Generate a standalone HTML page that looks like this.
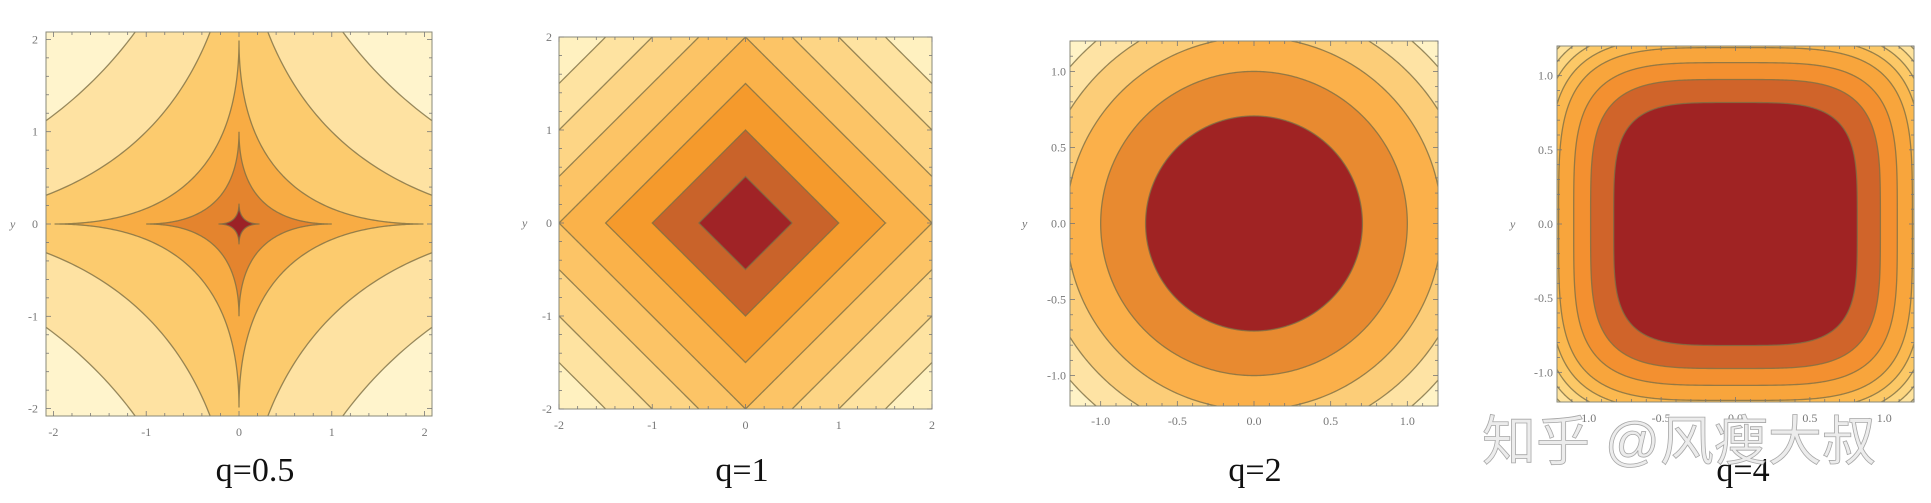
<!DOCTYPE html>
<html><head><meta charset="utf-8">
<style>
html,body{margin:0;padding:0;background:#fff;width:1931px;height:503px;overflow:hidden;position:relative}
svg{display:block;position:absolute;left:0;top:0}
.tl{font-family:"Liberation Serif",serif;font-size:12px;fill:#777}
.ti{font-family:"Liberation Serif",serif;font-size:34px;fill:#111}
.wm{font-family:"Liberation Sans","Noto Sans CJK SC",sans-serif;font-size:54px;fill:#ececec;stroke:#a8a8a8;stroke-width:0.8}
</style></head><body>
<svg id="root" width="1931" height="503" viewBox="0 0 1931 503" xmlns="http://www.w3.org/2000/svg"></svg>
<script>
// ---- data ----
const qValues = [0.5, 1, 2, 4];
const titles = ["q=0.5", "q=1", "q=2", "q=4"];
const ranges = [2.08, 2, 1.2, 1.2];
// contour levels of |x|^q + |y|^q for each panel
const levels05 = [0.47, 1, 1.41, 2, 2.5];
const levels1 = [0.5, 1, 1.5, 2, 2.5, 3, 3.5];
const levels2 = [0.5, 1, 1.5, 2, 2.5];
const levels4 = [0.45, 0.9, 1.4, 2, 2.5, 3, 3.5, 4];
// band colours inner -> outer
const colors05 = ["#9c2226", "#e4842e", "#f8ac44", "#fccb6e", "#fee2a2", "#fff4cc"];
const colors1 = ["#a02326", "#c9632a", "#f59a2c", "#fab24a", "#fcc466", "#fdd585", "#fee3a1", "#fff1c0"];
const colors2 = ["#a02323", "#e88a30", "#fbb04a", "#fccd78", "#fee3a4", "#fff3c6"];
const colors4 = ["#a02323", "#d0642a", "#f39030", "#f8a53c", "#fbb84f", "#fcc866", "#fdd680", "#fee29c", "#feebb2", "#fff4c8"];
const xTicks0 = ["-2", "-1", "0", "1", "2"];
const xTicks2 = ["-1.0", "-0.5", "0.0", "0.5", "1.0"];
const tickVals0 = [-2, -1, 0, 1, 2];
const tickVals2 = [-1, -0.5, 0, 0.5, 1];
const allLevels = [levels05, levels1, levels2, levels4];
const allColors = [colors05, colors1, colors2, colors4];
const allTickLabels = [xTicks0, xTicks0, xTicks2, xTicks2];
const allTickVals = [tickVals0, tickVals0, tickVals2, tickVals2];

const boxes = [
  {l:46, r:432, t:32, b:416, yl:10, lab:38, xlab:432},
  {l:559, r:932, t:37, b:409, yl:522, lab:552, xlab:425},
  {l:1070, r:1438, t:41, b:406, yl:1022, lab:1066, xlab:421},
  {l:1557, r:1914, t:46, b:402, yl:1510, lab:1553, xlab:418}
];
const titleX = [255, 742, 1255, 1743];

const NS = "http://www.w3.org/2000/svg";
const root = document.getElementById('root');
function mk(tag, attrs, parent){
  const e = document.createElementNS(NS, tag);
  for (const k in attrs) e.setAttribute(k, attrs[k]);
  (parent||root).appendChild(e);
  return e;
}
function superPath(q, f, sx, sy){
  const r = Math.pow(f, 1/q);
  let d = "";
  const N = 720;
  for (let i=0;i<=N;i++){
    const t = i/N*2*Math.PI;
    const c = Math.cos(t), s = Math.sin(t);
    const x = Math.sign(c)*r*Math.pow(Math.abs(c), 2/q);
    const y = Math.sign(s)*r*Math.pow(Math.abs(s), 2/q);
    d += (i?"L":"M") + sx(x).toFixed(2) + "," + sy(y).toFixed(2);
  }
  return d + "Z";
}

for (let p=0;p<4;p++){
  const B = boxes[p], R = ranges[p], q = qValues[p];
  const sx = v => B.l + (v + R)/(2*R)*(B.r-B.l);
  const sy = v => B.b - (v + R)/(2*R)*(B.b-B.t);
  const g = mk('g', {});
  
  
  const cp = mk('clipPath', {id:'clip'+p}, g);
  mk('rect', {x:B.l, y:B.t, width:B.r-B.l, height:B.b-B.t}, cp);
  const plot = mk('g', {'clip-path':'url(#clip'+p+')'}, g);
  
  
  const lv = allLevels[p], cols = allColors[p];
  const bg = mk('rect', {x:B.l, y:B.t, width:B.r-B.l, height:B.b-B.t, fill:cols[cols.length-1]}, plot);
  
  
  for (let i=lv.length-1;i>=0;i--){
    const path = mk('path', {d:superPath(q, lv[i], sx, sy), fill:cols[i], stroke:'#7d6f45', 'stroke-width':1.3, 'stroke-opacity':0.8}, plot);
    
    
  }
  const frame = mk('rect', {x:B.l, y:B.t, width:B.r-B.l, height:B.b-B.t, fill:'none', stroke:'#8a8a7a', 'stroke-width':1}, g);
  
  
  const tv = allTickVals[p], tl = allTickLabels[p];
  const unit = tv[1]-tv[0];
  const step = unit/5;
  const start = Math.ceil(-R/step)*step;
  for (let v=start; v<=R+1e-9; v+=step){
    const major = Math.abs(v/unit - Math.round(v/unit))<1e-6;
    const len = major?5:3;
    mk('line', {x1:sx(v), x2:sx(v), y1:B.b, y2:B.b-len, stroke:'#777', 'stroke-width':0.8}, g);
    mk('line', {x1:sx(v), x2:sx(v), y1:B.t, y2:B.t+len, stroke:'#777', 'stroke-width':0.8}, g);
    mk('line', {x1:B.l, x2:B.l+len, y1:sy(v), y2:sy(v), stroke:'#777', 'stroke-width':0.8}, g);
    mk('line', {x1:B.r, x2:B.r-len, y1:sy(v), y2:sy(v), stroke:'#777', 'stroke-width':0.8}, g);
  }
  for (let i=0;i<tv.length;i++){
    const xt = mk('text', {x:sx(tv[i]), y:B.xlab+4, 'text-anchor':'middle', class:'tl'}, g);
    xt.textContent = tl[i];
    
    
    const yt = mk('text', {x:B.lab, y:sy(tv[i])+4, 'text-anchor':'end', class:'tl'}, g);
    yt.textContent = tl[i];
    
    
  }
  const ya = mk('text', {x:B.yl, y:sy(0)+4, class:'tl', 'font-style':'italic'}, g);
  ya.textContent = 'y';
  
  
  const tt = mk('text', {x:titleX[p], y:481, 'text-anchor':'middle', class:'ti'}, g);
  tt.textContent = titles[p];
  
  
}
const wm = mk('text', {x:1482, y:460, class:'wm'});
wm.textContent = '知乎 @风瘦大叔';


</script>
</body></html>
